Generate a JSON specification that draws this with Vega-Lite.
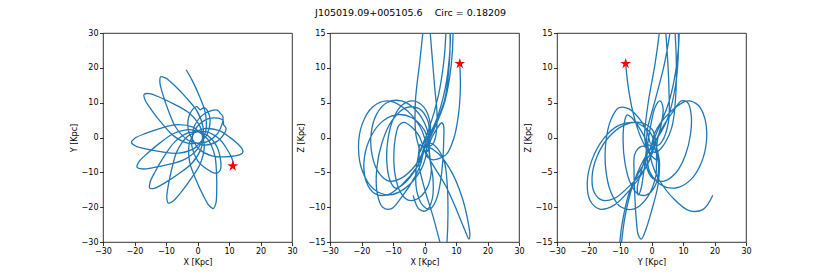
{
  "$schema": "https://vega.github.io/schema/vega-lite/v6.json",
  "padding": {"left": 69, "top": 8, "right": 5, "bottom": 5},
  "title": {"text": "J105019.09+005105.6\u00a0\u00a0\u00a0\u00a0Circ = 0.18209", "fontSize": 9.5, "font": "DejaVu Sans", "fontWeight": "normal", "anchor": "middle", "offset": 11, "color": "#000"},
  "spacing": 38,
  "bounds": "flush",
  "config": {
    "font": "DejaVu Sans",
    "view": {"stroke": "#000", "strokeWidth": 0.8},
    "axis": {"domain": false, "grid": false, "ticks": true, "tickColor": "#000", "tickWidth": 0.8, "tickSize": 3.5, "labelFontSize": 8, "labelColor": "#000", "labelPadding": 1.5, "titleFontSize": 8, "titleFontWeight": "normal", "titleColor": "#000", "titlePadding": 3, "labelFont": "DejaVu Sans", "titleFont": "DejaVu Sans", "labelFlush": false, "labelOverlap": false, "tickCount": 7}
  },
  "datasets": {
    "orbit": [
      {"t":0,"x":11.2,"y":-8.2,"z":10.6},{"t":1,"x":11.39,"y":-7.37,"z":7.2},{"t":2,"x":10.85,"y":-5.84,"z":3.54},{"t":3,"x":9.39,"y":-3.37,"z":0.0},{"t":4,"x":6.86,"y":-0.37,"z":-2.46},{"t":5,"x":2.74,"y":1.68,"z":-3.2},{"t":6,"x":1.0,"y":1.7,"z":-2.84},
      {"t":7,"x":-0.11,"y":1.59,"z":-2.0},{"t":8,"x":-1.22,"y":1.56,"z":-3.82},{"t":9,"x":-3.0,"y":1.33,"z":-5.62},{"t":10,"x":-7.37,"y":-1.39,"z":-8.64},{"t":11,"x":-10.65,"y":-5.52,"z":-10.25},{"t":12,"x":-13.37,"y":-9.67,"z":-9.98},{"t":13,"x":-15.05,"y":-12.85,"z":-7.88},{"t":14,"x":-15.16,"y":-14.53,"z":-4.5},{"t":15,"x":-13.47,"y":-14.5,"z":-0.72},{"t":16,"x":-10.22,"y":-12.95,"z":2.48},{"t":17,"x":-5.96,"y":-10.41,"z":4.25},{"t":18,"x":-1.7,"y":-7.31,"z":4.14},{"t":19,"x":1.2,"y":-3.06,"z":2.22},{"t":20,"x":1.51,"y":-1.29,"z":0.72},
      {"t":21,"x":1.58,"y":-0.17,"z":-1.0},{"t":22,"x":1.75,"y":0.94,"z":0.53},{"t":23,"x":1.83,"y":2.72,"z":1.98},{"t":24,"x":-0.09,"y":7.5,"z":4.28},{"t":25,"x":-3.59,"y":11.45,"z":5.25},{"t":26,"x":-7.2,"y":14.84,"z":4.62},{"t":27,"x":-10.05,"y":17.05,"z":2.52},{"t":28,"x":-11.68,"y":17.45,"z":-0.5},{"t":29,"x":-11.94,"y":15.79,"z":-3.65},{"t":30,"x":-10.98,"y":12.32,"z":-6.12},{"t":31,"x":-9.22,"y":7.68,"z":-7.25},{"t":32,"x":-6.9,"y":2.94,"z":-6.78},{"t":33,"x":-3.21,"y":-0.65,"z":-4.85},{"t":34,"x":-1.53,"y":-1.26,"z":-3.49},
      {"t":35,"x":-0.45,"y":-1.53,"z":-2.0},{"t":36,"x":0.61,"y":-1.87,"z":-1.09},{"t":37,"x":2.28,"y":-2.18,"z":0.45},{"t":38,"x":6.35,"y":-1.04,"z":5.02},{"t":39,"x":8.51,"y":1.1,"z":10.5},{"t":40,"x":9.08,"y":2.59,"z":15.44},{"t":41,"x":8.68,"y":3.24,"z":18.54},{"t":42,"x":8.26,"y":3.64,"z":19.0},{"t":43,"x":8.25,"y":4.22,"z":16.71},{"t":44,"x":8.04,"y":4.97,"z":12.31},{"t":45,"x":6.55,"y":5.54,"z":7.0},{"t":46,"x":3.51,"y":5.39,"z":2.23},{"t":47,"x":-0.08,"y":3.16,"z":-0.71},{"t":48,"x":-0.97,"y":1.71,"z":-1.21},
      {"t":49,"x":-1.43,"y":0.7,"z":-1.0},{"t":50,"x":-1.96,"y":-0.28,"z":-2.68},{"t":51,"x":-2.65,"y":-1.93,"z":-4.42},{"t":52,"x":-2.48,"y":-7.08,"z":-7.62},{"t":53,"x":-0.55,"y":-11.99,"z":-9.75},{"t":54,"x":1.69,"y":-16.41,"z":-10.28},{"t":55,"x":3.61,"y":-19.46,"z":-9.08},{"t":56,"x":5.01,"y":-20.39,"z":-6.5},{"t":57,"x":5.82,"y":-18.92,"z":-3.25},{"t":58,"x":6.1,"y":-15.33,"z":-0.22},{"t":59,"x":6.04,"y":-10.37,"z":1.75},{"t":60,"x":5.48,"y":-5.12,"z":2.12},{"t":61,"x":3.24,"y":-0.49,"z":0.75},{"t":62,"x":1.87,"y":0.67,"z":-0.49},
      {"t":63,"x":0.94,"y":1.28,"z":-2.0},{"t":64,"x":0.07,"y":1.98,"z":-0.15},{"t":65,"x":-1.44,"y":2.95,"z":1.58},{"t":66,"x":-6.54,"y":3.67,"z":4.23},{"t":67,"x":-11.71,"y":2.62,"z":5.25},{"t":68,"x":-16.46,"y":1.18,"z":4.39},{"t":69,"x":-19.79,"y":-0.17,"z":1.92},{"t":70,"x":-20.95,"y":-1.39,"z":-1.5},{"t":71,"x":-19.64,"y":-2.45,"z":-4.92},{"t":72,"x":-16.15,"y":-3.35,"z":-7.39},{"t":73,"x":-11.26,"y":-4.15,"z":-8.25},{"t":74,"x":-5.99,"y":-4.51,"z":-7.23},{"t":75,"x":-1.05,"y":-3.11,"z":-4.58},{"t":76,"x":0.33,"y":-1.96,"z":-2.85},
      {"t":77,"x":1.1,"y":-1.15,"z":-1.0},{"t":78,"x":1.92,"y":-0.41,"z":-1.19},{"t":79,"x":3.03,"y":0.87,"z":-0.64},{"t":80,"x":4.02,"y":4.9,"z":2.48},{"t":81,"x":3.18,"y":7.64,"z":7.5},{"t":82,"x":2.16,"y":8.58,"z":13.06},{"t":83,"x":1.38,"y":8.24,"z":17.64},{"t":84,"x":0.86,"y":7.95,"z":20.0},{"t":85,"x":0.42,"y":8.34,"z":19.48},{"t":86,"x":-0.26,"y":8.84,"z":16.19},{"t":87,"x":-1.47,"y":8.15,"z":11.0},{"t":88,"x":-2.87,"y":5.65,"z":5.27},{"t":89,"x":-2.76,"y":1.51,"z":0.52},{"t":90,"x":-1.96,"y":0.02,"z":-1.07},
      {"t":91,"x":-1.33,"y":-0.89,"z":-2.0},{"t":92,"x":-0.74,"y":-1.83,"z":-1.39},{"t":93,"x":0.34,"y":-3.2,"z":-1.26},{"t":94,"x":4.54,"y":-5.28,"z":-2.36},{"t":95,"x":8.66,"y":-5.54,"z":-5.0},{"t":96,"x":11.83,"y":-5.29,"z":-8.44},{"t":97,"x":13.68,"y":-4.84,"z":-11.74},{"t":98,"x":14.4,"y":-4.18,"z":-14.0},{"t":99,"x":14.14,"y":-3.24,"z":-14.58},{"t":100,"x":12.82,"y":-1.87,"z":-13.31},{"t":101,"x":10.28,"y":0.04,"z":-10.5},{"t":102,"x":6.66,"y":2.03,"z":-6.89},{"t":103,"x":2.0,"y":2.52,"z":-3.42},{"t":104,"x":0.36,"y":1.94,"z":-2.03},
      {"t":105,"x":-0.64,"y":1.46,"z":-1.0},{"t":106,"x":-1.69,"y":1.05,"z":0.19},{"t":107,"x":-3.28,"y":0.22,"z":1.15},{"t":108,"x":-6.45,"y":-3.83,"z":2.16},{"t":109,"x":-8.12,"y":-8.83,"z":1.75},{"t":110,"x":-9.25,"y":-13.66,"z":0.0},{"t":111,"x":-9.75,"y":-17.23,"z":-2.65},{"t":112,"x":-9.27,"y":-18.84,"z":-5.5},{"t":113,"x":-7.7,"y":-18.23,"z":-7.81},{"t":114,"x":-5.18,"y":-15.66,"z":-9.0},{"t":115,"x":-2.04,"y":-11.82,"z":-8.75},{"t":116,"x":0.91,"y":-7.45,"z":-7.16},{"t":117,"x":2.17,"y":-2.46,"z":-4.69},{"t":118,"x":1.86,"y":-0.7,"z":-3.33},
      {"t":119,"x":1.55,"y":0.38,"z":-2.0},{"t":120,"x":1.33,"y":1.48,"z":-0.37},{"t":121,"x":0.79,"y":3.18,"z":1.22},{"t":122,"x":-2.65,"y":7.02,"z":3.87},{"t":123,"x":-7.29,"y":9.53,"z":5.25},{"t":124,"x":-11.85,"y":11.48,"z":5.03},{"t":125,"x":-15.27,"y":12.59,"z":3.29},{"t":126,"x":-16.95,"y":12.4,"z":0.5},{"t":127,"x":-16.62,"y":10.75,"z":-2.55},{"t":128,"x":-14.53,"y":7.82,"z":-5.03},{"t":129,"x":-11.29,"y":4.06,"z":-6.25},{"t":130,"x":-7.49,"y":0.4,"z":-5.87},{"t":131,"x":-2.8,"y":-1.71,"z":-3.95},{"t":132,"x":-1.01,"y":-1.71,"z":-2.56},
      {"t":133,"x":0.11,"y":-1.59,"z":-1.0},{"t":134,"x":1.21,"y":-1.55,"z":-0.19},{"t":135,"x":2.89,"y":-1.28,"z":1.23},{"t":136,"x":6.4,"y":1.21,"z":5.44},{"t":137,"x":7.86,"y":4.07,"z":10.5},{"t":138,"x":8.11,"y":5.87,"z":15.02},{"t":139,"x":7.69,"y":6.57,"z":17.77},{"t":140,"x":7.22,"y":6.92,"z":18.0},{"t":141,"x":6.88,"y":7.41,"z":15.61},{"t":142,"x":6.21,"y":7.86,"z":11.23},{"t":143,"x":4.4,"y":7.69,"z":6.0},{"t":144,"x":1.47,"y":6.35,"z":1.31},{"t":145,"x":-1.15,"y":2.95,"z":-1.61},{"t":146,"x":-1.49,"y":1.28,"z":-2.15},
      {"t":147,"x":-1.58,"y":0.17,"z":-2.0},{"t":148,"x":-1.74,"y":-0.92,"z":-2.74},{"t":149,"x":-1.77,"y":-2.64,"z":-3.96},{"t":150,"x":0.08,"y":-6.7,"z":-7.44},{"t":151,"x":2.82,"y":-9.0,"z":-11.5},{"t":152,"x":4.88,"y":-10.06,"z":-15.02},{"t":153,"x":6.03,"y":-10.23,"z":-17.04},{"t":154,"x":6.67,"y":-9.96,"z":-17.0},{"t":155,"x":7.16,"y":-9.47,"z":-14.88},{"t":156,"x":7.44,"y":-8.35,"z":-11.23},{"t":157,"x":7.25,"y":-6.04,"z":-7.0},{"t":158,"x":6.16,"y":-2.62,"z":-3.31},{"t":159,"x":3.12,"y":0.63,"z":-1.12},{"t":160,"x":1.52,"y":1.25,"z":-0.78},
      {"t":161,"x":0.45,"y":1.53,"z":-1.0},{"t":162,"x":-0.62,"y":1.88,"z":-2.63},{"t":163,"x":-2.36,"y":2.27,"z":-4.22},{"t":164,"x":-7.4,"y":1.22,"z":-6.87},{"t":165,"x":-11.9,"y":-1.54,"z":-8.25},{"t":166,"x":-15.87,"y":-4.52,"z":-8.03},{"t":167,"x":-18.54,"y":-6.93,"z":-6.29},{"t":168,"x":-19.22,"y":-8.47,"z":-3.5},{"t":169,"x":-17.62,"y":-9.02,"z":-0.45},{"t":170,"x":-14.04,"y":-8.67,"z":2.03},{"t":171,"x":-9.16,"y":-7.75,"z":3.25},{"t":172,"x":-4.09,"y":-6.29,"z":2.87},{"t":173,"x":0.09,"y":-3.28,"z":0.95},{"t":174,"x":0.98,"y":-1.73,"z":-0.44},
      {"t":175,"x":1.43,"y":-0.7,"z":-2.0},{"t":176,"x":1.96,"y":0.28,"z":-3.86},{"t":177,"x":2.65,"y":1.93,"z":-5.7},{"t":178,"x":2.48,"y":7.08,"z":-8.81},{"t":179,"x":0.55,"y":11.99,"z":-10.5},{"t":180,"x":-1.69,"y":16.41,"z":-10.31},{"t":181,"x":-3.61,"y":19.46,"z":-8.3}
    ],
    "star": [{"x": 11.2, "y": -8.2, "z": 10.6}]
  },
  "hconcat": [
    {
      "width": 189, "height": 209,
      "layer": [
        {"data": {"name": "orbit"}, "mark": {"type": "line", "clip": true, "interpolate": "catmull-rom", "color": "#1f77b4", "strokeWidth": 1.3},
         "encoding": {
           "x": {"field": "x", "type": "quantitative", "scale": {"domain": [-30, 30], "nice": false, "zero": false}, "axis": {"title": "X [Kpc]", "tickCount": 7, "labelOverlap": false}},
           "y": {"field": "y", "type": "quantitative", "scale": {"domain": [-30, 30], "nice": false, "zero": false}, "axis": {"title": "Y [Kpc]", "tickCount": 7, "labelOverlap": false}},
           "order": {"field": "t", "type": "quantitative"}}},
        {"data": {"name": "star"}, "mark": {"type": "point", "shape": "M0,-1L0.2245,-0.309L0.951,-0.309L0.363,0.118L0.588,0.809L0,0.382L-0.588,0.809L-0.363,0.118L-0.951,-0.309L-0.2245,-0.309Z", "filled": true, "color": "#ff0000", "size": 130, "opacity": 1},
         "encoding": {"x": {"field": "x", "type": "quantitative"}, "y": {"field": "y", "type": "quantitative"}}}
      ]
    },
    {
      "width": 189, "height": 209,
      "layer": [
        {"data": {"name": "orbit"}, "mark": {"type": "line", "clip": true, "interpolate": "catmull-rom", "color": "#1f77b4", "strokeWidth": 1.3},
         "encoding": {
           "x": {"field": "x", "type": "quantitative", "scale": {"domain": [-30, 30], "nice": false, "zero": false}, "axis": {"title": "X [Kpc]", "tickCount": 7, "labelOverlap": false}},
           "y": {"field": "z", "type": "quantitative", "scale": {"domain": [-15, 15], "nice": false, "zero": false}, "axis": {"title": "Z [Kpc]", "tickCount": 7, "labelOverlap": false}},
           "order": {"field": "t", "type": "quantitative"}}},
        {"data": {"name": "star"}, "mark": {"type": "point", "shape": "M0,-1L0.2245,-0.309L0.951,-0.309L0.363,0.118L0.588,0.809L0,0.382L-0.588,0.809L-0.363,0.118L-0.951,-0.309L-0.2245,-0.309Z", "filled": true, "color": "#ff0000", "size": 130, "opacity": 1},
         "encoding": {"x": {"field": "x", "type": "quantitative"}, "y": {"field": "z", "type": "quantitative"}}}
      ]
    },
    {
      "width": 189, "height": 209,
      "layer": [
        {"data": {"name": "orbit"}, "mark": {"type": "line", "clip": true, "interpolate": "catmull-rom", "color": "#1f77b4", "strokeWidth": 1.3},
         "encoding": {
           "x": {"field": "y", "type": "quantitative", "scale": {"domain": [-30, 30], "nice": false, "zero": false}, "axis": {"title": "Y [Kpc]", "tickCount": 7, "labelOverlap": false}},
           "y": {"field": "z", "type": "quantitative", "scale": {"domain": [-15, 15], "nice": false, "zero": false}, "axis": {"title": "Z [Kpc]", "tickCount": 7, "labelOverlap": false}},
           "order": {"field": "t", "type": "quantitative"}}},
        {"data": {"name": "star"}, "mark": {"type": "point", "shape": "M0,-1L0.2245,-0.309L0.951,-0.309L0.363,0.118L0.588,0.809L0,0.382L-0.588,0.809L-0.363,0.118L-0.951,-0.309L-0.2245,-0.309Z", "filled": true, "color": "#ff0000", "size": 130, "opacity": 1},
         "encoding": {"x": {"field": "y", "type": "quantitative"}, "y": {"field": "z", "type": "quantitative"}}}
      ]
    }
  ]
}
